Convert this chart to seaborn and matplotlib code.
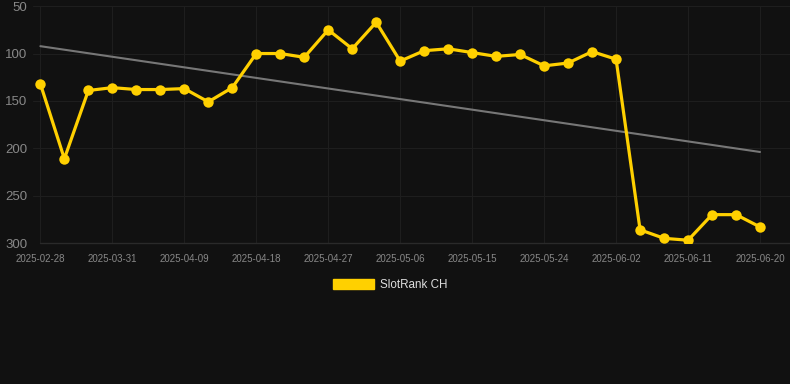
import numpy as np
import pandas as pd
import matplotlib
matplotlib.use("Agg")
import matplotlib.pyplot as plt
import matplotlib.patches as mpatches
import seaborn as sns

dates = ["2025-02-28", "2025-03-25", "2025-03-28", "2025-03-31", "2025-04-03", "2025-04-06",
         "2025-04-09", "2025-04-12", "2025-04-15", "2025-04-18", "2025-04-21", "2025-04-24",
         "2025-04-27", "2025-04-30", "2025-05-03", "2025-05-06", "2025-05-09", "2025-05-12",
         "2025-05-15", "2025-05-18", "2025-05-21", "2025-05-24", "2025-05-27", "2025-05-30",
         "2025-06-02", "2025-06-05", "2025-06-08", "2025-06-11", "2025-06-14", "2025-06-17",
         "2025-06-20"]
ranks = [132, 211, 139, 136, 138, 138, 137, 151, 136, 100, 100, 104, 75, 95, 67, 108,
         97, 95, 99, 103, 101, 113, 110, 98, 106, 286, 295, 297, 270, 270, 283]
series_name = "SlotRank CH"

BG = "#111111"
GOLD = "#FFD000"

def main():
    df = pd.DataFrame({"date": dates, "rank": ranks})
    df["idx"] = np.arange(len(df))

    sns.set_style("dark")
    plt.rcParams["font.family"] = ["Liberation Sans", "DejaVu Sans"]

    fig = plt.figure(figsize=(7.9, 3.84), dpi=100, facecolor=BG)
    ax = fig.add_axes([0.042, 0.367, 0.958, 0.617])
    ax.set_facecolor(BG)

    # trend line (least squares over the points)
    k, b = np.polyfit(df["idx"], df["rank"], 1)
    trend = k * df["idx"] + b
    ax.plot(df["idx"], trend, color="#777777", lw=1.5, zorder=2)

    sns.lineplot(data=df, x="idx", y="rank", ax=ax, color=GOLD, lw=2.3,
                 marker="o", markersize=7.5, markeredgewidth=0, zorder=3)

    ax.set_ylim(300, 50)
    ax.set_yticks([50, 100, 150, 200, 250, 300])
    ax.set_xlim(-0.3, 31.25)
    tick_pos = df["idx"][::3]
    ax.set_xticks(tick_pos)
    ax.set_xticklabels(df["date"][::3])
    ax.set_xlabel("")
    ax.set_ylabel("")

    ax.grid(True, color="#1e1e1e", lw=0.8)
    for s in ax.spines.values():
        s.set_visible(False)
    ax.plot([0, 31.25], [300, 300], color="#2a2a2a", lw=1.0, zorder=1, clip_on=False)
    ax.tick_params(axis="y", colors="#888888", labelsize=9.5, length=0, pad=4)
    ax.tick_params(axis="x", colors="#888888", labelsize=7, length=0, pad=8)

    handle = mpatches.Patch(color=GOLD, label=series_name)
    leg = fig.legend(handles=[handle], loc="center", bbox_to_anchor=(0.494, 0.258),
                     frameon=False, fontsize=8.4, handlelength=3.5, handleheight=1.0,
                     handletextpad=0.5)
    for t in leg.get_texts():
        t.set_color("#dddddd")

    fig.savefig("out.png", dpi=100, facecolor=BG)

if __name__ == "__main__":
    main()
